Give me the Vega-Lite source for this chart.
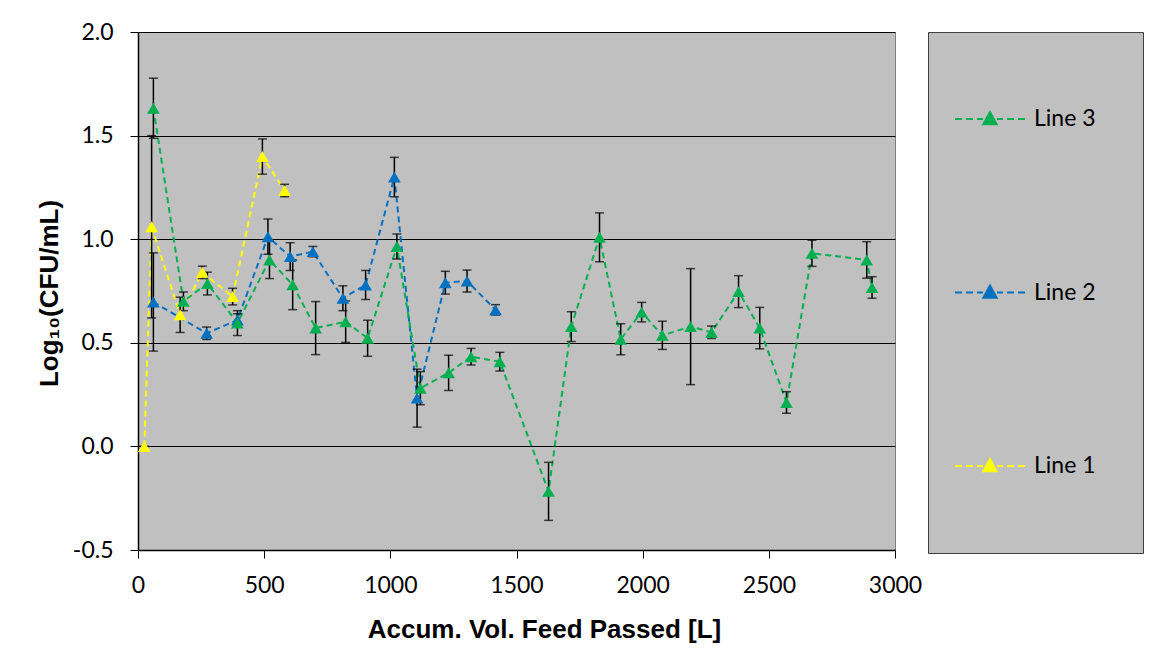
{
  "$schema": "https://vega.github.io/schema/vega-lite/v6.json",
  "width": 757,
  "height": 518,
  "autosize": {"type": "none"},
  "padding": {"left": 138, "top": 32, "right": 260, "bottom": 100},
  "background": "white",
  "config": {
    "view": {"fill": "#C0C0C0", "stroke": "#7F7F7F", "strokeWidth": 1},
    "font": "Lato"
  },
  "data": {
    "values": [
      {"series": "Line 1", "vol": 25, "log": 0.0, "err": 0},
      {"series": "Line 1", "vol": 54, "log": 1.06, "err": 0.44},
      {"series": "Line 1", "vol": 167, "log": 0.635, "err": 0.085},
      {"series": "Line 1", "vol": 255, "log": 0.84, "err": 0.03},
      {"series": "Line 1", "vol": 375, "log": 0.723, "err": 0.04},
      {"series": "Line 1", "vol": 493, "log": 1.399, "err": 0.085},
      {"series": "Line 1", "vol": 581, "log": 1.235, "err": 0.03},
      {"series": "Line 2", "vol": 61, "log": 0.697, "err": 0.237},
      {"series": "Line 2", "vol": 272, "log": 0.546, "err": 0.03},
      {"series": "Line 2", "vol": 394, "log": 0.61, "err": 0.03},
      {"series": "Line 2", "vol": 515, "log": 1.012, "err": 0.085},
      {"series": "Line 2", "vol": 603, "log": 0.916, "err": 0.067},
      {"series": "Line 2", "vol": 693, "log": 0.94, "err": 0.025},
      {"series": "Line 2", "vol": 812, "log": 0.715, "err": 0.06},
      {"series": "Line 2", "vol": 902, "log": 0.779, "err": 0.07},
      {"series": "Line 2", "vol": 1016, "log": 1.3, "err": 0.095},
      {"series": "Line 2", "vol": 1106, "log": 0.233, "err": 0.14},
      {"series": "Line 2", "vol": 1218, "log": 0.79, "err": 0.055},
      {"series": "Line 2", "vol": 1304, "log": 0.798, "err": 0.053},
      {"series": "Line 2", "vol": 1417, "log": 0.659, "err": 0.025},
      {"series": "Line 3", "vol": 61, "log": 1.632, "err": 0.145},
      {"series": "Line 3", "vol": 180, "log": 0.7, "err": 0.045},
      {"series": "Line 3", "vol": 275, "log": 0.786, "err": 0.055},
      {"series": "Line 3", "vol": 394, "log": 0.595, "err": 0.06},
      {"series": "Line 3", "vol": 521, "log": 0.9, "err": 0.09},
      {"series": "Line 3", "vol": 613, "log": 0.78, "err": 0.12},
      {"series": "Line 3", "vol": 704, "log": 0.571, "err": 0.128},
      {"series": "Line 3", "vol": 823, "log": 0.602, "err": 0.1},
      {"series": "Line 3", "vol": 910, "log": 0.522, "err": 0.087},
      {"series": "Line 3", "vol": 1026, "log": 0.965, "err": 0.06},
      {"series": "Line 3", "vol": 1119, "log": 0.281, "err": 0.08},
      {"series": "Line 3", "vol": 1231, "log": 0.355, "err": 0.085},
      {"series": "Line 3", "vol": 1320, "log": 0.433, "err": 0.04},
      {"series": "Line 3", "vol": 1434, "log": 0.409, "err": 0.045},
      {"series": "Line 3", "vol": 1627, "log": -0.217, "err": 0.14},
      {"series": "Line 3", "vol": 1717, "log": 0.578, "err": 0.072},
      {"series": "Line 3", "vol": 1829, "log": 1.009, "err": 0.118},
      {"series": "Line 3", "vol": 1913, "log": 0.517, "err": 0.075},
      {"series": "Line 3", "vol": 1996, "log": 0.648, "err": 0.047},
      {"series": "Line 3", "vol": 2078, "log": 0.536, "err": 0.068},
      {"series": "Line 3", "vol": 2190, "log": 0.578, "err": 0.28},
      {"series": "Line 3", "vol": 2273, "log": 0.551, "err": 0.03},
      {"series": "Line 3", "vol": 2380, "log": 0.747, "err": 0.077},
      {"series": "Line 3", "vol": 2464, "log": 0.571, "err": 0.1},
      {"series": "Line 3", "vol": 2570, "log": 0.212, "err": 0.052},
      {"series": "Line 3", "vol": 2671, "log": 0.932, "err": 0.063},
      {"series": "Line 3", "vol": 2888, "log": 0.9, "err": 0.088},
      {"series": "Line 3", "vol": 2909, "log": 0.767, "err": 0.052}
    ]
  },
  "encoding": {
    "x": {
      "field": "vol",
      "type": "quantitative",
      "scale": {"domain": [0, 3000], "nice": false, "zero": false},
      "axis": {
        "title": "Accum. Vol. Feed Passed [L]",
        "values": [0, 500, 1000, 1500, 2000, 2500, 3000],
        "format": "d",
        "grid": false,
        "tickSize": 8,
        "tickColor": "black",
        "domainColor": "black",
        "domainWidth": 1.5,
        "labelFont": "Lato",
        "labelFontSize": 23,
        "labelColor": "black",
        "labelPadding": 16,
        "labelFlush": false,
        "titleFont": "Liberation Sans",
        "titleFontWeight": "bold",
        "titleFontSize": 26,
        "titleColor": "black",
        "titleX": 406,
        "titleY": 87,
        "titleBaseline": "alphabetic"
      }
    }
  },
  "layer": [
    {
      "mark": {"type": "line", "strokeDash": [6, 4], "strokeWidth": 2},
      "encoding": {
        "y": {"field": "log", "type": "quantitative"},
        "color": {
          "field": "series",
          "type": "nominal",
          "scale": {"domain": ["Line 3", "Line 2", "Line 1"], "range": ["#00B050", "#0070C0", "#FFFF00"]},
          "legend": {
            "title": "\u00A0",
            "titleOrient": "right",
            "titlePadding": 22,
            "titleFontSize": 4,
            "orient": "none",
            "legendX": 790,
            "legendY": 0,
            "direction": "vertical",
            "fillColor": "#C0C0C0",
            "strokeColor": "#404040",
            "padding": 25,
            "symbolType": "M-1,0L-0.8,0M-0.686,0L-0.486,0M-0.371,0L-0.2,0M0.2,0L0.371,0M0.486,0L0.686,0M0.8,0L1,0M0,-0.2L0.19,0.15L-0.19,0.15Z",
            "symbolSize": 4900,
            "symbolStrokeWidth": 2,
            "symbolDash": [1, 0],
            "symbolOffset": 1,
            "clipHeight": 124,
            "rowPadding": 49.5,
            "labelFont": "Lato",
            "labelFontSize": 23,
            "labelColor": "black",
            "labelOffset": 8,
            "encode": {
              "symbols": {
                "update": {
                  "fill": {"scale": "color", "field": "value"},
                  "stroke": {"scale": "color", "field": "value"},
                  "opacity": {"value": 1}
                }
              }
            }
          }
        }
      }
    },
    {
      "mark": {"type": "errorbar", "color": "black", "thickness": 1.5, "ticks": {"size": 9, "thickness": 1.5, "color": "black"}},
      "encoding": {
        "y": {
          "field": "log",
          "type": "quantitative",
          "scale": {"domain": [-0.5, 2], "nice": false, "zero": false},
          "axis": {
            "title": "Log₁₀(CFU/mL)",
            "values": [-0.5, 0, 0.5, 1, 1.5, 2],
            "labelExpr": "replace(format(datum.value, '.1f'), '\u2212', '-')",
            "grid": true,
            "gridColor": "black",
            "gridWidth": 1,
            "tickSize": 8,
            "tickColor": "black",
            "domainColor": "black",
            "domainWidth": 1.5,
            "labelFont": "Lato",
            "labelFontSize": 23,
            "labelColor": "black",
            "labelPadding": 17,
            "labelFlush": false,
            "titleFont": "Liberation Sans",
            "titleFontWeight": "bold",
            "titleFontSize": 26,
            "titleColor": "black",
            "titleAngle": -90,
            "titleX": -81,
            "titleY": 261,
            "titleAlign": "center",
            "titleBaseline": "alphabetic"
          }
        },
        "yError": {"field": "err"}
      }
    },
    {
      "mark": {"type": "point", "shape": "triangle-up", "filled": true, "size": 160, "opacity": 1},
      "encoding": {
        "y": {"field": "log", "type": "quantitative"},
        "color": {
          "field": "series",
          "type": "nominal",
          "scale": {"domain": ["Line 3", "Line 2", "Line 1"], "range": ["#00B050", "#0070C0", "#FFFF00"]},
          "legend": {
            "title": "\u00A0",
            "titleOrient": "right",
            "titlePadding": 22,
            "titleFontSize": 4,
            "orient": "none",
            "legendX": 790,
            "legendY": 0,
            "direction": "vertical",
            "fillColor": "#C0C0C0",
            "strokeColor": "#404040",
            "padding": 25,
            "symbolType": "M-1,0L-0.8,0M-0.686,0L-0.486,0M-0.371,0L-0.2,0M0.2,0L0.371,0M0.486,0L0.686,0M0.8,0L1,0M0,-0.2L0.19,0.15L-0.19,0.15Z",
            "symbolSize": 4900,
            "symbolStrokeWidth": 2,
            "symbolDash": [1, 0],
            "symbolOffset": 1,
            "clipHeight": 124,
            "rowPadding": 49.5,
            "labelFont": "Lato",
            "labelFontSize": 23,
            "labelColor": "black",
            "labelOffset": 8,
            "encode": {
              "symbols": {
                "update": {
                  "fill": {"scale": "color", "field": "value"},
                  "stroke": {"scale": "color", "field": "value"},
                  "opacity": {"value": 1}
                }
              }
            }
          }
        }
      }
    }
  ]
}
